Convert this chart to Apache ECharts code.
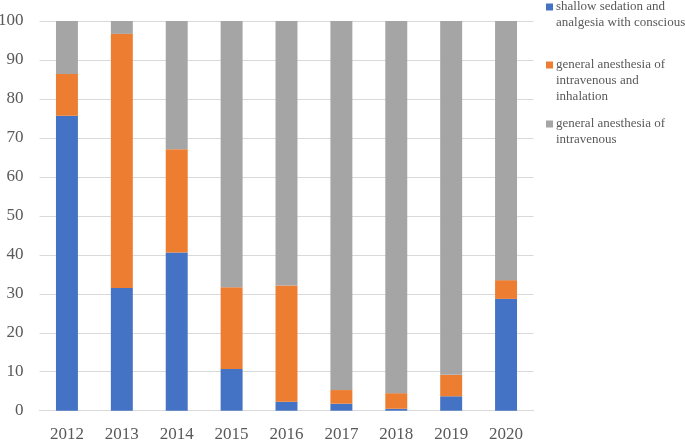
<!DOCTYPE html>
<html><head><meta charset="utf-8">
<script src="https://cdn.jsdelivr.net/npm/echarts@6/dist/echarts.min.js"></script>
<style>html,body{margin:0;padding:0;background:#fff}#c{width:685px;height:440px}</style>
</head><body><div id="c"></div>
<script>
const years = ['2012','2013','2014','2015','2016','2017','2018','2019','2020'];
const shallow = [75.7, 31.5, 40.6, 10.7, 2.3, 1.8, 0.5, 3.7, 28.7];
const ivInhal = [10.7, 65.2, 26.5, 21.0, 29.8, 3.5, 4.0, 5.5, 4.8];
const iv = [13.6, 3.3, 32.9, 68.3, 67.9, 94.7, 95.5, 90.8, 66.5];
const seriesNames = ['shallow sedation and analgesia with conscious','general anesthesia of intravenous and inhalation','general anesthesia of intravenous'];
const legendLines = [
  ['shallow sedation and','analgesia with conscious'],
  ['general anesthesia of','intravenous and','inhalation'],
  ['general anesthesia of','intravenous']
];
const colors = ['#4472C4','#ED7D31','#A5A5A5'];
const legendTops = [-1, 57, 116];
const FONT = '"Liberation Serif","Times New Roman",serif';

const legends = seriesNames.map((n, i) => ({
  data: [n],
  left: 541, top: legendTops[i], padding: 0,
  icon: 'rect', itemWidth: 0, itemHeight: 0, itemGap: 0,
  selectedMode: false,
  formatter: () => legendLines[i].map((l, k) => (k === 0 ? '{m|}' : '{s|}') + '{t|' + l + '}').join('\n'),
  textStyle: {
    fontFamily: FONT, fontSize: 13, color: '#595959', lineHeight: 16,
    rich: {
      m: {width: 7, height: 7, backgroundColor: colors[i], lineHeight: 16},
      s: {width: 7, lineHeight: 16},
      t: {fontFamily: FONT, fontSize: 13, color: '#595959', lineHeight: 16, padding: [0,0,0,3]}
    }
  }
}));

const data = [shallow, ivInhal, iv];
const chart = echarts.init(document.getElementById('c'), null, {renderer: 'canvas'});
chart.setOption({
  animation: false,
  color: colors,
  legend: legends,
  grid: {left: 39.5, right: 151.5, top: 21, bottom: 29.3, containLabel: false, outerBoundsMode: 'none'},
  xAxis: {
    type: 'category', data: years,
    axisLine: {show: true, lineStyle: {color: '#d9d9d9', width: 1}},
    axisTick: {show: false},
    axisLabel: {fontFamily: FONT, fontSize: 17, color: '#595959', margin: 15}
  },
  yAxis: {
    type: 'value', min: 0, max: 100, interval: 10,
    axisLine: {show: false}, axisTick: {show: false},
    splitLine: {lineStyle: {color: '#d9d9d9', width: 1}},
    axisLabel: {fontFamily: FONT, fontSize: 17, color: '#595959', margin: 16}
  },
  series: seriesNames.map((n, i) => ({
    name: n, type: 'bar', stack: 'total', barWidth: '40%',
    data: data[i], itemStyle: {color: colors[i]}
  }))
});
</script></body></html>
